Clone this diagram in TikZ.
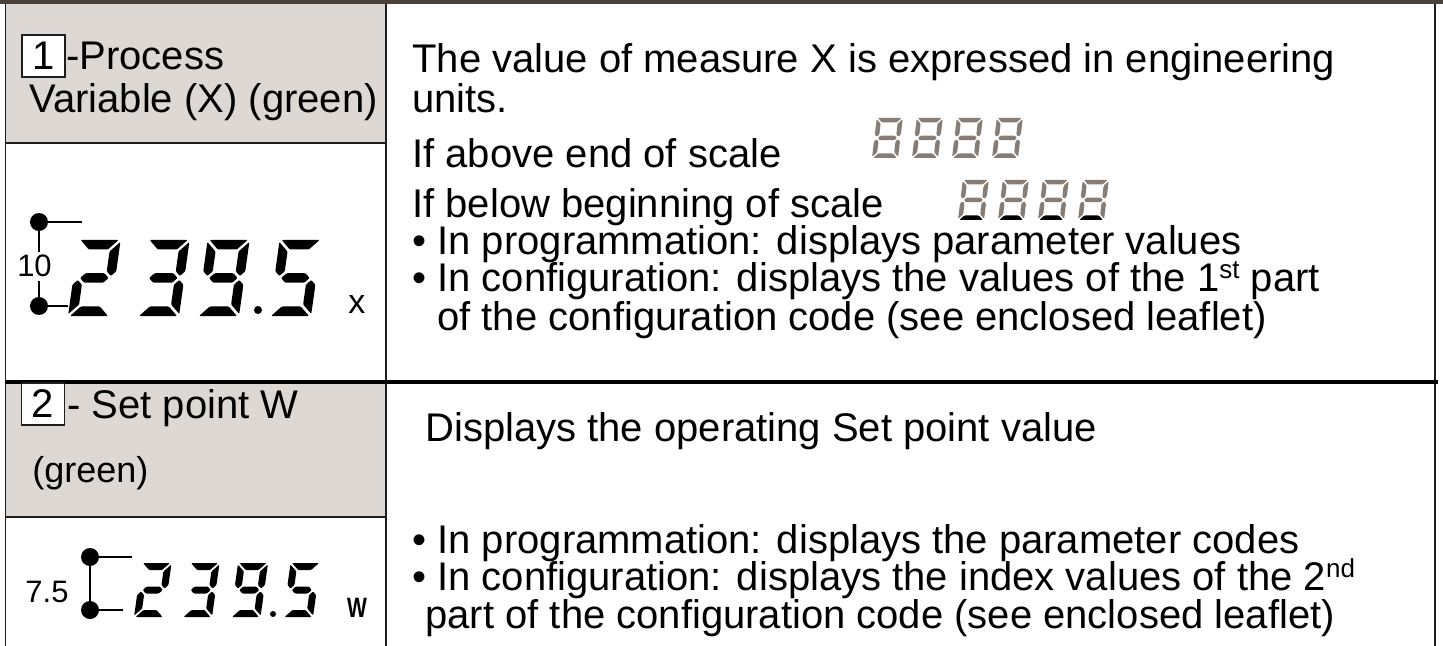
\documentclass[tikz,border=0pt]{standalone}
\usepackage{fontspec}
\setmainfont{Liberation Sans}
\definecolor{barbrown}{RGB}{75,65,59}
\definecolor{cellgray}{RGB}{221,216,212}
\definecolor{lcdgray}{RGB}{135,125,119}
\definecolor{rulecol}{RGB}{30,30,30}

% seven-segment geometry (set per display): width, height, thickness, gap, slant
\def\lcdW{42}\def\lcdH{76}\def\lcdT{10}\def\lcdG{2}\def\lcdS{0.14}
\newcommand\lcdseg[1]{%
  \pgfmathsetmacro\lm{\lcdH/2}\pgfmathsetmacro\lh{\lcdT/2}%
  \if#1a\fill (\lcdG,\lcdH) -- (\lcdW-\lcdG,\lcdH) -- (\lcdW-\lcdT-\lcdG,\lcdH-\lcdT) -- (\lcdT+\lcdG,\lcdH-\lcdT) -- cycle;\fi
  \if#1d\fill (\lcdG,0) -- (\lcdW-\lcdG,0) -- (\lcdW-\lcdT-\lcdG,\lcdT) -- (\lcdT+\lcdG,\lcdT) -- cycle;\fi
  \if#1g\fill (\lh+\lcdG,\lm) -- (\lcdT+\lcdG,\lm+\lh) -- (\lcdW-\lcdT-\lcdG,\lm+\lh) -- (\lcdW-\lh-\lcdG,\lm) -- (\lcdW-\lcdT-\lcdG,\lm-\lh) -- (\lcdT+\lcdG,\lm-\lh) -- cycle;\fi
  \if#1f\fill (0,\lcdH-\lcdG) -- (\lcdT,\lcdH-\lcdT-\lcdG) -- (\lcdT,\lm+\lh+\lcdG) -- (\lh,\lm+\lcdG) -- (0,\lm+\lh+\lcdG) -- cycle;\fi
  \if#1b\fill (\lcdW,\lcdH-\lcdG) -- (\lcdW-\lcdT,\lcdH-\lcdT-\lcdG) -- (\lcdW-\lcdT,\lm+\lh+\lcdG) -- (\lcdW-\lh,\lm+\lcdG) -- (\lcdW,\lm+\lh+\lcdG) -- cycle;\fi
  \if#1e\fill (0,\lcdG) -- (\lcdT,\lcdT+\lcdG) -- (\lcdT,\lm-\lh-\lcdG) -- (\lh,\lm-\lcdG) -- (0,\lm-\lh-\lcdG) -- cycle;\fi
  \if#1c\fill (\lcdW,\lcdG) -- (\lcdW-\lcdT,\lcdT+\lcdG) -- (\lcdW-\lcdT,\lm-\lh-\lcdG) -- (\lcdW-\lh,\lm-\lcdG) -- (\lcdW,\lm-\lh-\lcdG) -- cycle;\fi}
% #1 x, #2 baseline y, #3 segment list, #4 colour
\newcommand\lcddigit[4]{%
  \begin{scope}[shift={(#1,#2)}, xslant=\lcdS, yscale=-1, #4, rounded corners=0.5pt]
    \foreach \s in {#3} {\lcdseg{\s}}
  \end{scope}}
\newcommand\sups[1]{\raisebox{6.5pt}{\fontsize{13}{14}\selectfont #1}}

\tikzset{
  txt/.style={anchor=base west, inner sep=0pt, font=\fontsize{20}{24}\selectfont},
  rule/.style={line width=0.75pt, draw=rulecol},
  numbox/.style={draw=rulecol, line width=0.6pt, fill=white, minimum width=21.5pt,
    minimum height=21pt, inner sep=0pt, font=\fontsize{20}{24}\selectfont},
  dot/.style={circle, fill=black, minimum size=9pt, inner sep=0pt},
  lead/.style={line width=0.6pt},
  small/.style={inner sep=1.5pt, font=\fontsize{15.5}{18}\selectfont}
}

\begin{document}
\begin{tikzpicture}[x=0.5pt,y=-0.5pt]
\useasboundingbox (0,0) rectangle (1443,646);
\fill[white] (0,0) rectangle (1443,646);

% grey heading cells
\fill[cellgray] (5,4) rectangle (386,143);
\fill[cellgray] (5,384) rectangle (386,517);
\fill[barbrown] (0,0) rectangle (1443,4.5);

% table rules
\draw[rule] (5.5,4) -- (5.5,646);
\draw[rule] (386,4) -- (386,646);
\draw[rule] (1435,4) -- (1435,646);
\draw[rule] (5,143) -- (386,143);
\draw[rule] (5,517) -- (386,517);
\draw[line width=2pt] (5,382) -- (1438,382);

% ---- row 1 heading
\node[numbox] (n1) at (43.5,56) {1};
\node[txt] (h1) at (66,70) {-Process};
\node[txt] (h1b) at (29,113) {Variable (X) (green)};

% ---- row 1 display
\node[dot] (d1t) at (39,222) {};
\node[dot] (d1b) at (39,306) {};
\node[small, anchor=base] (l10) at (34.5,277) {10};
\coordinate (e1t) at (82,222);
\coordinate (e1b) at (68,306);
\draw[lead] (d1t.center) -- (d1t |- l10.north);
\draw[lead] (d1t |- l10.south) -- (d1b.center);
\draw[lead] (d1t.center) -- (e1t);
\draw[lead] (d1b.center) -- (e1b);

\def\lcdW{42}\def\lcdH{76}\def\lcdT{9.5}\def\lcdG{2}\def\lcdS{0.14}
\lcddigit{68}{316}{a,b,g,e,d}{black}
\lcddigit{137}{316}{a,b,g,c,d}{black}
\lcddigit{197}{316}{a,b,c,d,f,g}{black}
\lcddigit{269}{316}{a,f,g,c,d}{black}
\fill (258,310) circle [radius=4];
\node[anchor=base west, inner sep=0pt, font=\fontsize{17}{20}\selectfont] (ux) at (348,314) {x};

% ---- row 1 description
\node[txt] (r1) at (412,73) {The value of measure X is expressed in engineering};
\node[txt] (r2) at (412,113) {units.};
\node[txt] (r3) at (412,168) {If above end of scale};
\node[txt] (r4) at (412,218) {If below beginning of scale};
\node[txt] (r5) at (412,255) {\textbullet{} In programmation: displays parameter values};
\node[txt] (r6) at (412,292) {\textbullet{} In configuration: displays the values of the 1\sups{st} part};
\node[txt] (r7) at (437,330) {of the configuration code (see enclosed leaflet)};

% over-range / under-range indicators
\def\lcdW{26}\def\lcdH{40}\def\lcdT{4.5}\def\lcdG{1.2}\def\lcdS{0.12}
\foreach \xx in {872,912,952,992} {
  \lcddigit{\xx}{158}{a,b,c,d,e,f,g}{lcdgray}
}
\foreach \xx in {958,998,1038,1078} {
  \lcddigit{\xx}{220}{a,b,c,e,f,g}{lcdgray}
  \lcddigit{\xx}{220}{d}{black}
}

% ---- row 2 heading
\node[numbox] (n2) at (43,404) {2};
\node[txt] (h2) at (67,418) {- Set point W};
\node[txt, font=\fontsize{18}{22}\selectfont] (h2b) at (32,482) {(green)};

% ---- row 2 display
\node[dot] (d2t) at (90,557) {};
\node[dot] (d2b) at (90,610) {};
\node[small, anchor=base west, inner sep=0pt] (l75) at (25,602) {7.5};
\coordinate (e2t) at (132,557);
\coordinate (e2b) at (123,610);
\draw[lead] (d2t.center) -- (d2b.center);
\draw[lead] (d2t.center) -- (e2t);
\draw[lead] (d2b.center) -- (e2b);

\def\lcdW{30}\def\lcdH{54}\def\lcdT{7}\def\lcdG{1.5}\def\lcdS{0.14}
\lcddigit{134}{617}{a,b,g,e,d}{black}
\lcddigit{182}{617}{a,b,g,c,d}{black}
\lcddigit{230.5}{617}{a,b,c,d,f,g}{black}
\lcddigit{283}{617}{a,f,g,c,d}{black}
\fill (273,614) circle [radius=3];
\node[anchor=base, inner sep=0pt, font=\fontsize{14}{16}\selectfont\bfseries] (uw) at (357,617) {\scalebox{0.75}[1]{W}};

% ---- row 2 description
\node[txt] (s1) at (425,441) {Displays the operating Set point value};
\node[txt] (s2) at (412,553) {\textbullet{} In programmation: displays the parameter codes};
\node[txt] (s3) at (412,590) {\textbullet{} In configuration: displays the index values of the 2\sups{nd}};
\node[txt] (s4) at (425,628) {part of the configuration code (see enclosed leaflet)};
\end{tikzpicture}
\end{document}
